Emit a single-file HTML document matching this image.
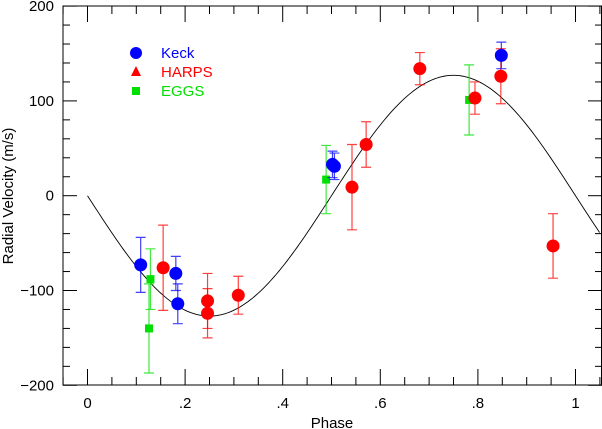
<!DOCTYPE html>
<html><head><meta charset="utf-8"><style>
html,body{margin:0;padding:0;background:#fff;}
svg{display:block;font-family:"Liberation Sans",sans-serif;}
</style></head><body>
<svg id="chart" width="602" height="429" viewBox="0 0 602 429"></svg>
<script>
const keckPhase=[0.109,0.181,0.185,0.502,0.506,0.848];
const keckRV=[-73,-82,-114,33,31,148];
const keckErr=[29,18,21,14,14,14];
const harpsPhase=[0.155,0.246,0.246,0.309,0.542,0.571,0.681,0.794,0.847,0.954];
const harpsRV=[-76,-111,-124,-105,9,54,134,103,126,-53];
const harpsErr=[45,29,26,20,45,24,17,17,29,34];
const eggsPhase=[0.129,0.126,0.489,0.782];
const eggsRV=[-88,-140,17,101];
const eggsErr=[32,47,36,37];
const amplitude=127;
const xTicks=[0,0.2,0.4,0.6,0.8,1];
const xTickLabels=["0",".2",".4",".6",".8","1"];
const yTicks=[-200,-100,0,100,200];
const yTickLabels=["\u2212200","\u2212100","0","100","200"];

const svg=document.getElementById('chart');
const NS='http://www.w3.org/2000/svg';
const L=63,R=602,T=6,B=385;
const X=p=>87.5+p*488;
const Y=v=>195.7-v*0.948;
function mk(tag,attrs,parent){const e=document.createElementNS(NS,tag);for(const k in attrs)e.setAttribute(k,attrs[k]);(parent||svg).appendChild(e);return e;}

const axes=mk('g',{});


const frame=mk('rect',{x:L,y:T,width:R-L-0.5,height:B-T,fill:'none',stroke:'#000','stroke-width':1},axes);


// x ticks
for(let i=-1;i<=21;i++){const p=i*0.05;const x=X(p);if(x<L||x>R)continue;const major=i%4===0;const len=major?16:8;
 mk('line',{x1:x,x2:x,y1:B,y2:B-len,stroke:'#000','stroke-width':1},axes);
 mk('line',{x1:x,x2:x,y1:T,y2:T+len,stroke:'#000','stroke-width':1},axes);}
for(let v=-200;v<=200;v+=20){const y=Y(v);const major=v%100===0;const len=major?14:7;
 mk('line',{x1:L,x2:L+len,y1:y,y2:y,stroke:'#000','stroke-width':1},axes);
 mk('line',{x1:R,x2:R-len,y1:y,y2:y,stroke:'#000','stroke-width':1},axes);}
xTicks.forEach((p,i)=>{const t=mk('text',{x:X(p),y:408,'text-anchor':'middle','font-size':15},axes);t.textContent=xTickLabels[i];
 
 });
yTicks.forEach((v,i)=>{const t=mk('text',{x:54,y:Y(v)+5,'text-anchor':'end','font-size':15},axes);t.textContent=yTickLabels[i];
 
 });
const xt=mk('text',{x:332,y:428,'text-anchor':'middle','font-size':15});xt.textContent='Phase';


const yt=mk('text',{x:13,y:196,'text-anchor':'middle','font-size':15,transform:'rotate(-90 13 196)'});yt.textContent='Radial Velocity (m/s)';



// model curve
let d='';for(let i=0;i<=220;i++){const p=i/200*1.06;const x=X(p);if(x>R)break;d+=(i?'L':'M')+x.toFixed(2)+','+Y(-amplitude*Math.sin(2*Math.PI*p)).toFixed(2);}
const curve=mk('path',{d:d,fill:'none',stroke:'#000','stroke-width':0.9});



function series(ph,rv,er,color,shape,name){
 const g=mk('g',{});
 
 
 ph.forEach((p,i)=>{const x=X(p),y=Y(rv[i]),y1=Y(rv[i]+er[i]),y2=Y(rv[i]-er[i]);
  const eb=mk('path',{d:`M${x},${y1}V${y2}M${x-5},${y1}H${x+5}M${x-5},${y2}H${x+5}`,stroke:color,'stroke-width':1.2,fill:'none','stroke-opacity':0.75},g);
  
  
  let m;
  if(shape==='sq'){m=mk('rect',{x:x-4,y:y-4,width:8,height:8,fill:color},g);}
  else{m=mk('circle',{cx:x,cy:y,r:6.5,fill:color},g);}
  
  
 });
}
series(eggsPhase,eggsRV,eggsErr,'#00e000','sq','eggs');
series(harpsPhase,harpsRV,harpsErr,'#ff0000','c','harps');
series(keckPhase,keckRV,keckErr,'#0000ff','c','keck');

// legend
const lg=mk('g',{});


const e1=mk('circle',{cx:136,cy:53,r:6,fill:'#0000ff'},lg);


const e2=mk('polygon',{points:'136,66 141,76 131,76',fill:'#ff0000'},lg);


const e3=mk('rect',{x:132,y:87,width:8,height:8,fill:'#00e000'},lg);


[['Keck','#0000ff',58],['HARPS','#ff0000',77],['EGGS','#00e000',96]].forEach(a=>{const t=mk('text',{x:161,y:a[2],fill:a[1],'font-size':15},lg);t.textContent=a[0];
 
 });
</script>
</body></html>
